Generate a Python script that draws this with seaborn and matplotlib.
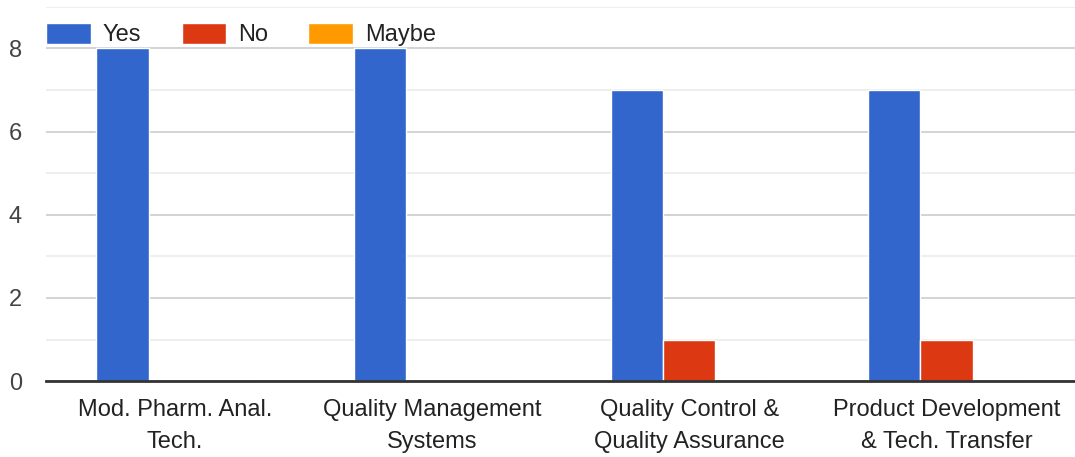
import numpy as np
import pandas as pd
import seaborn as sns
import matplotlib.pyplot as plt

# chart values
categories = ["Mod. Pharm. Anal.\nTech.", "Quality Management\nSystems",
              "Quality Control &\nQuality Assurance", "Product Development\n& Tech. Transfer"]
answers = ["Yes", "No", "Maybe"]
yes_counts = [8, 8, 7, 7]
no_counts = [0, 0, 1, 1]
maybe_counts = [0, 0, 0, 0]
colors = ["#3366CC", "#DC3912", "#FF9900"]

df = pd.DataFrame({
    "category": categories * 3,
    "answer": [a for a in answers for _ in categories],
    "count": yes_counts + no_counts + maybe_counts,
})

sns.set_style("white")
plt.rcParams['font.family'] = ['Liberation Sans', 'DejaVu Sans']

fig = plt.figure(figsize=(10.75, 4.57), dpi=100)
ax = fig.add_axes([0.043, 0.166, 0.957, 0.819])

sns.barplot(data=df, x="category", y="count", hue="answer", palette=colors,
            saturation=1, width=0.61, edgecolor="white", linewidth=1.0,
            ax=ax, zorder=3)

ax.set_ylim(0, 9)
ax.set_xlim(-0.5, 3.5)
ax.set_yticks([0, 2, 4, 6, 8])
ax.set_yticks([1, 3, 5, 7, 9], minor=True)
ax.grid(axis="y", which="major", color="#cccccc", linewidth=1.2, zorder=0)
ax.grid(axis="y", which="minor", color="#ebebeb", linewidth=1.2, zorder=0)
ax.tick_params(axis="y", which="both", length=0, labelsize=17, labelcolor="#444444", pad=27)
ax.tick_params(axis="x", length=0, labelsize=17, labelcolor="#222222", pad=13)
ax.set_xlabel("")
ax.set_ylabel("")
for side in ["top", "right", "left"]:
    ax.spines[side].set_visible(False)
ax.spines["bottom"].set_color("#333333")
ax.spines["bottom"].set_linewidth(2)
ax.spines["bottom"].set_zorder(4)

for t in ax.get_xticklabels():
    t.set_linespacing(1.6)
for t in ax.get_yticklabels():
    t.set_horizontalalignment("left")

ax.legend(loc="center left", bbox_to_anchor=(0.0, 0.926), ncol=3, frameon=False,
          fontsize=17, handlelength=1.9, handleheight=1.0, handletextpad=0.5,
          columnspacing=1.7, borderpad=0, borderaxespad=0, labelcolor="#222222")

fig.savefig("out.png", dpi=100)
